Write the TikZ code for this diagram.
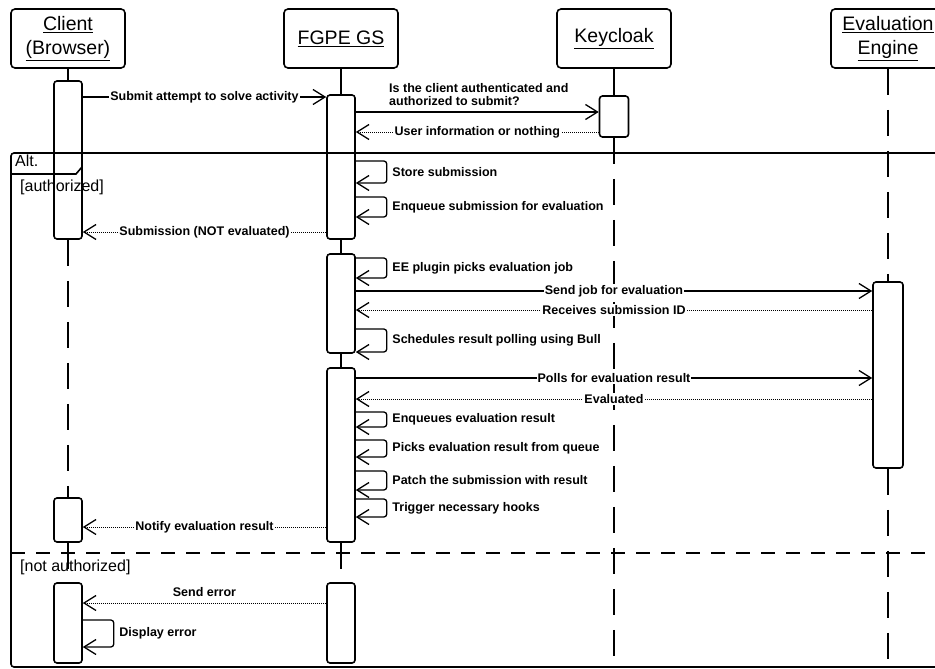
\documentclass[tikz,border=0pt]{standalone}
\usepackage{fontspec}
\setmainfont{Liberation Sans}
\usetikzlibrary{arrows.meta}

\begin{document}
\begin{tikzpicture}[
  x=1pt, y=-1pt,
  part/.style  ={draw, line width=1.6pt, rounded corners=4pt, minimum width=114pt, minimum height=59pt,
                 align=center, inner sep=0pt, font=\fontsize{19.5}{24}\selectfont},
  act/.style   ={draw, line width=1.6pt, rounded corners=3pt, minimum width=28pt, inner sep=0pt},
  life/.style  ={line width=1.5pt, dash pattern=on 26pt off 15pt},
  msg/.style   ={-{Straight Barb[length=12pt,width=15pt,line width=1.3pt]}, line width=1.3pt},
  ret/.style   ={msg, line width=0.9pt, dash pattern=on 1pt off 1pt},
  self/.style  ={msg, rounded corners=3pt},
  lbl/.style   ={font=\fontsize{12.5}{13}\selectfont\bfseries, fill=white, inner sep=1pt},
  slbl/.style  ={font=\fontsize{12.5}{13}\selectfont\bfseries, right, inner sep=5pt},
  frame/.style ={line width=1.6pt},
  guard/.style ={font=\fontsize{16}{18}\selectfont, anchor=west, inner sep=0pt}
]
\useasboundingbox (0,0) rectangle (935,669);

% alt fragment
\draw[frame, rounded corners=3pt] (11,153) rectangle (965,667);
\draw[frame] (11,174) -- (76,174) -- (82,167) -- (82,153);
\node[guard] (alt) at (15,161) {Alt.};
\node[guard] (gyes) at (20,187) {[authorized]};
\draw[frame, dash pattern=on 14pt off 11pt] (11,553) -- (935,553);
\node[guard] (gno) at (20,567) {[not authorized]};

% participants
\node[part] (cl) at (68,38.5)  {\underline{Client}\\\underline{(Browser)}};
\node[part] (gs) at (341,38.5) {\underline{FGPE GS}};
\node[part] (kc) at (614,38.5) {\underline{Keycloak}};
\node[part] (ee) at (888,38.5) {\underline{Evaluation}\\\underline{Engine}};

% activations
\node[act, minimum height=158pt] (c1) at (68,160) {};
\node[act, minimum height=44pt]  (c2) at (68,520) {};
\node[act, minimum height=80pt]  (c3) at (68,623) {};
\node[act, minimum height=144pt] (g1) at (341,167) {};
\node[act, minimum height=99pt]  (g2) at (341,303.5) {};
\node[act, minimum height=174pt] (g3) at (341,455) {};
\node[act, minimum height=80pt]  (g4) at (341,623) {};
\node[act, minimum height=41pt, minimum width=29pt] (k1) at (614,116.5) {};
\node[act, minimum height=186pt, minimum width=30pt] (e1) at (888,375) {};

% lifelines
\draw[life] (cl.south) -- (c1.north);
\draw[life] (c1.south) -- (c2.north);
\draw[life] (c2.south) -- (c3.north);
\draw[life] (gs.south) -- (g1.north);
\draw[life] (g1.south) -- (g2.north);
\draw[life] (g2.south) -- (g3.north);
\draw[life] (g3.south) -- (g4.north);
\draw[life] (kc.south) -- (k1.north);
\draw[life] (k1.south) -- (kc.south |- 0,667);
\draw[life] (ee.south) -- (e1.north);
\draw[life] (e1.south) -- (ee.south |- 0,667);

% authorized
\draw[msg] (c1.east |- 0,97) -- node[lbl]{Submit attempt to solve activity} (g1.west |- 0,97);
\draw[msg] (g1.east |- 0,112) -- node[pos=0.135, anchor=south west, align=left, yshift=6pt,
  font=\fontsize{12.5}{12.5}\selectfont\bfseries, inner sep=0pt]
  {Is the client authenticated and\\authorized to submit?} (k1.west |- 0,112);
\draw[ret] (k1.west |- 0,132) -- node[lbl]{User information or nothing} (g1.east |- 0,132);
\draw[self] (g1.east |- 0,161) -- ++(31,0) |- node[slbl, pos=0.25]{Store submission} (g1.east |- 0,183);
\draw[self] (g1.east |- 0,197) -- ++(31,0) |- node[slbl, pos=0.25]{Enqueue submission for evaluation} (g1.east |- 0,217);
\draw[ret] (g1.west |- 0,232) -- node[lbl]{Submission (NOT evaluated)} (c1.east |- 0,232);

\draw[self] (g2.east |- 0,258) -- ++(31,0) |- node[slbl, pos=0.25]{EE plugin picks evaluation job} (g2.east |- 0,278);
\draw[msg] (g2.east |- 0,291) -- node[lbl]{Send job for evaluation} (e1.west |- 0,291);
\draw[ret] (e1.west |- 0,310) -- node[lbl]{Receives submission ID} (g2.east |- 0,310);
\draw[self] (g2.east |- 0,329) -- ++(31,0) |- node[slbl, pos=0.25]{Schedules result polling using Bull} (g2.east |- 0,352);

\draw[msg] (g3.east |- 0,378) -- node[lbl]{Polls for evaluation result} (e1.west |- 0,378);
\draw[ret] (e1.west |- 0,399) -- node[lbl]{Evaluated} (g3.east |- 0,399);
\draw[self] (g3.east |- 0,412) -- ++(31,0) |- node[slbl, pos=0.25]{Enqueues evaluation result} (g3.east |- 0,427);
\draw[self] (g3.east |- 0,440) -- ++(31,0) |- node[slbl, pos=0.25]{Picks evaluation result from queue} (g3.east |- 0,457);
\draw[self] (g3.east |- 0,471) -- ++(31,0) |- node[slbl, pos=0.25]{Patch the submission with result} (g3.east |- 0,490);
\draw[self] (g3.east |- 0,499) -- ++(31,0) |- node[slbl, pos=0.25]{Trigger necessary hooks} (g3.east |- 0,517);
\draw[ret] (g3.west |- 0,527) -- node[lbl]{Notify evaluation result} (c2.east |- 0,527);

% not authorized
\draw[ret] (g4.west |- 0,603) -- node[lbl, above, fill=none, yshift=5pt]{Send error} (c3.east |- 0,603);
\draw[self] (c3.east |- 0,620) -- ++(31,0) |- node[slbl, pos=0.25]{Display error} (c3.east |- 0,647);
\end{tikzpicture}
\end{document}
